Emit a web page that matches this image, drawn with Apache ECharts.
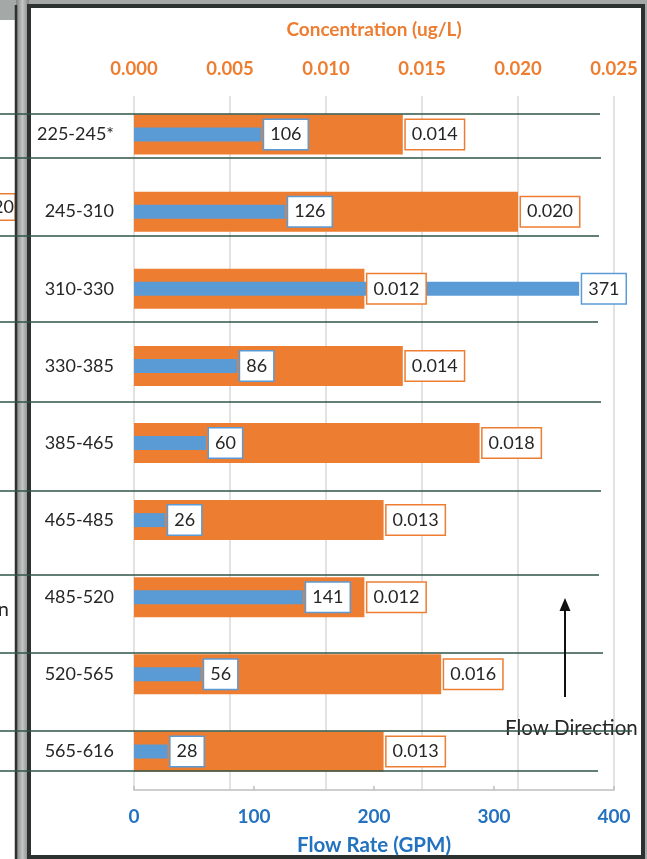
<!DOCTYPE html>
<html>
<head>
<meta charset="utf-8">
<title>Flow Rate and Concentration by Depth Interval</title>
<script src="https://cdn.jsdelivr.net/npm/echarts@6/dist/echarts.min.js"></script>
<style>
  html, body { margin: 0; padding: 0; background: #a4a8a7; }
  #chart { width: 647px; height: 859px; }
</style>
</head>
<body>
<div id="chart"></div>
<script>
// Depth intervals (ft bgs), top of the well to the bottom
const intervals = ['225-245*', '245-310', '310-330', '330-385', '385-465', '465-485', '485-520', '520-565', '565-616'];
// Flow contribution per interval (GPM)
const flowRate = [106, 126, 371, 86, 60, 26, 141, 56, 28];
// Concentration per interval (ug/L)
const concentration = [0.014, 0.020, 0.012, 0.014, 0.018, 0.013, 0.012, 0.016, 0.013];
// Axis tick values
const flowTicks = [0, 100, 200, 300, 400];
const concTicks = [0.000, 0.005, 0.010, 0.015, 0.020, 0.025];

const ORANGE = '#ED7D31';
const BLUE = '#5B9BD5';
const AXIS_BLUE = '#2372C0';
const TEXT = '#262626';
const FONT = 'Lato, "Open Sans", sans-serif';

const chart = echarts.init(document.getElementById('chart'), null, { renderer: 'canvas' });

function boxLabel(color, fmt) {
  return {
    show: true,
    position: 'right',
    distance: 3,
    formatter: p => fmt(p.value),
    color: TEXT,
    fontFamily: FONT,
    fontSize: 18,
    lineHeight: 22,
    backgroundColor: '#ffffff',
    borderColor: color,
    borderWidth: 1.5,
    padding: [4, 6, 3, 6]
  };
}

// Panel frame, hand-drawn row separators and the flow-direction note
function decorations() {
  const g = [];
  // neighbouring panel (left)
  g.push({ type: 'rect', silent: true, z: -20, shape: { x: -10, y: 20, width: 26, height: 845 }, style: { fill: '#ffffff' } });
  g.push({
    type: 'text', silent: true, z: -19,
    style: {
      text: '0.020', x: 14.5, y: 207, align: 'right', verticalAlign: 'middle',
      font: '18px ' + FONT, fill: TEXT, backgroundColor: '#fff',
      borderColor: ORANGE, borderWidth: 1.5, padding: [4, 0.5, 3, 6]
    }
  });
  g.push({
    type: 'text', silent: true, z: -19,
    style: { text: 'Flow Direction', x: 9, y: 610, align: 'right', verticalAlign: 'middle', font: '20px ' + FONT, fill: TEXT }
  });
  // gap between the two panels
  g.push({
    type: 'rect', silent: true, z: -18,
    shape: { x: 16, y: 0, width: 13, height: 859 },
    style: {
      fill: {
        type: 'linear', x: 0, y: 0, x2: 1, y2: 0,
        colorStops: [
          { offset: 0, color: '#7f8382' },
          { offset: 0.5, color: '#c3c6c5' },
          { offset: 1, color: '#7f8382' }
        ]
      }
    }
  });
  g.push({ type: 'line', silent: true, z: -17, shape: { x1: 16, y1: 5, x2: 16, y2: 859 }, style: { stroke: '#2b3230', lineWidth: 2.5 } });
  // this panel
  g.push({
    type: 'rect', silent: true, z: -15,
    shape: { x: 29, y: 6, width: 614, height: 851 },
    style: { fill: '#ffffff', stroke: '#2b3230', lineWidth: 4 }
  });
  // row separators
  const rows = [[114, 600], [158, 601], [236, 599], [322, 598], [402, 601], [491, 601], [575, 599], [653, 603], [731, 632], [771, 598]];
  rows.forEach(([y, x2]) => {
    g.push({
      type: 'line', silent: true, z: 50,
      shape: { x1: 0, y1: y, x2: x2, y2: y },
      style: { stroke: '#2f5446', lineWidth: 1.5 }
    });
  });
  // flow direction arrow
  g.push({ type: 'line', silent: true, z: 50, shape: { x1: 565, y1: 697, x2: 565, y2: 608 }, style: { stroke: '#111', lineWidth: 2 } });
  g.push({ type: 'polygon', silent: true, z: 50, shape: { points: [[565, 598], [559.5, 611], [570.5, 611]] }, style: { fill: '#111' } });
  g.push({
    type: 'text', silent: true, z: 49,
    style: { text: 'Flow Direction', x: 505, y: 728, align: 'left', verticalAlign: 'middle', font: '20.5px ' + FONT, fill: TEXT }
  });
  return g;
}

const option = {
  animation: false,
  backgroundColor: '#a4a8a7',
  grid: { left: 134, right: 33, top: 96, bottom: 69, containLabel: false, outerBoundsMode: 'none' },
  xAxis: [
    {
      type: 'value',
      position: 'bottom',
      min: flowTicks[0],
      max: flowTicks[flowTicks.length - 1],
      interval: flowTicks[1] - flowTicks[0],
      axisLine: { show: true, lineStyle: { color: '#bfbfbf', width: 1.5 } },
      axisTick: { show: true, inside: true, length: 4, lineStyle: { color: '#bfbfbf', width: 1.5 } },
      splitLine: { show: false },
      axisLabel: { color: AXIS_BLUE, fontFamily: FONT, fontWeight: 'bold', fontSize: 19, margin: 17 },
      name: 'Flow Rate (GPM)',
      nameLocation: 'middle',
      nameGap: 45,
      nameTextStyle: { color: AXIS_BLUE, fontFamily: FONT, fontWeight: 'bold', fontSize: 20.5 }
    },
    {
      type: 'value',
      position: 'top',
      min: concTicks[0],
      max: concTicks[concTicks.length - 1],
      interval: concTicks[1] - concTicks[0],
      axisLine: { show: false },
      axisTick: { show: false },
      splitLine: { show: true, lineStyle: { color: '#d9d9d9', width: 1.5 } },
      axisLabel: { color: ORANGE, fontFamily: FONT, fontWeight: 'bold', fontSize: 18.5, margin: 17, formatter: v => v.toFixed(3) },
      name: 'Concentration (ug/L)',
      nameLocation: 'middle',
      nameGap: 57,
      nameTextStyle: { color: ORANGE, fontFamily: FONT, fontWeight: 'bold', fontSize: 19 }
    }
  ],
  yAxis: [
    {
      type: 'category',
      data: intervals,
      inverse: true,
      axisLine: { show: false },
      axisTick: { show: false },
      splitLine: { show: false },
      axisLabel: { color: TEXT, fontFamily: FONT, fontSize: 18, margin: 20 }
    },
    {
      type: 'category',
      data: intervals,
      inverse: true,
      show: false
    }
  ],
  series: [
    {
      name: 'Concentration',
      type: 'bar',
      xAxisIndex: 1,
      yAxisIndex: 0,
      data: concentration,
      barWidth: 40,
      itemStyle: { color: ORANGE },
      z: 2
    },
    {
      name: 'Flow Rate',
      type: 'bar',
      xAxisIndex: 0,
      yAxisIndex: 1,
      data: flowRate,
      barWidth: 14,
      itemStyle: { color: BLUE },
      z: 3
    },
    {
      // value boxes for concentration, kept above both bar layers
      name: 'Concentration label',
      type: 'bar',
      xAxisIndex: 1,
      yAxisIndex: 0,
      data: concentration,
      barWidth: 40,
      barGap: '-100%',
      itemStyle: { color: 'rgba(0,0,0,0)' },
      label: boxLabel(ORANGE, v => v.toFixed(3)),
      z: 4
    },
    {
      name: 'Flow Rate label',
      type: 'bar',
      xAxisIndex: 0,
      yAxisIndex: 1,
      data: flowRate,
      barWidth: 14,
      barGap: '-100%',
      itemStyle: { color: 'rgba(0,0,0,0)' },
      label: boxLabel(BLUE, v => String(v)),
      z: 4
    }
  ],
  graphic: decorations()
};

chart.setOption(option);
</script>
</body>
</html>
